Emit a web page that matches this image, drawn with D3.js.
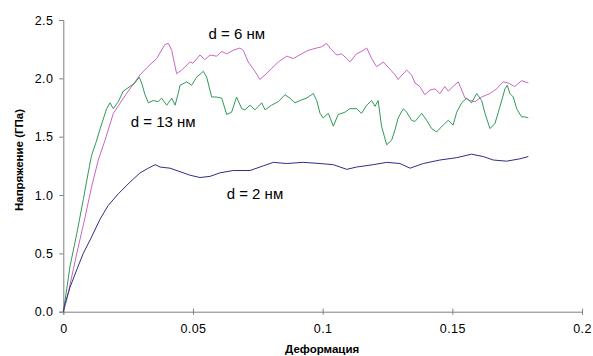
<!DOCTYPE html>
<html>
<head>
<meta charset="utf-8">
<script src="https://cdn.jsdelivr.net/npm/d3@7"></script>
<style>
  body { margin: 0; background: #fff; }
  text { font-family: Arial, "Liberation Sans", sans-serif; }
</style>
</head>
<body>
<div id="chart"></div>
<script>
// values: [strain, stress GPa]
var d6 = [[0,0],[0.0013,0.10],[0.0052,0.50],[0.0084,0.81],[0.0109,1.07],[0.0135,1.30],[0.0161,1.47],
  [0.0193,1.70],[0.0244,1.87],[0.0296,2.03],[0.0322,2.09],[0.0360,2.17],[0.0392,2.29],[0.0405,2.30],
  [0.0418,2.24],[0.0437,2.04],[0.0456,2.07],[0.0488,2.14],[0.0500,2.13],[0.0527,2.20],[0.0546,2.16],
  [0.0566,2.20],[0.0591,2.19],[0.0611,2.23],[0.0630,2.21],[0.0655,2.24],[0.0681,2.26],[0.0694,2.24],
  [0.0713,2.14],[0.0739,2.06],[0.0758,1.99],[0.0778,2.03],[0.0797,2.07],[0.0829,2.14],[0.0861,2.19],
  [0.0887,2.17],[0.0919,2.21],[0.0944,2.24],[0.0977,2.26],[0.0996,2.27],[0.1015,2.30],[0.1028,2.26],
  [0.1054,2.20],[0.1073,2.21],[0.1093,2.17],[0.1105,2.14],[0.1131,2.21],[0.1157,2.24],[0.1170,2.26],
  [0.1189,2.17],[0.1208,2.10],[0.1234,2.14],[0.1259,2.08],[0.1279,2.03],[0.1291,1.99],[0.1298,2.01],
  [0.1324,2.07],[0.1343,2.03],[0.1356,1.96],[0.1375,1.93],[0.1394,1.86],[0.1414,1.90],[0.1433,1.91],
  [0.1452,1.87],[0.1471,1.93],[0.1484,1.89],[0.1503,1.93],[0.1523,1.97],[0.1536,1.90],[0.1549,1.83],
  [0.1568,1.81],[0.1587,1.80],[0.1613,1.84],[0.1645,1.87],[0.1671,1.91],[0.1696,1.97],[0.1715,1.96],
  [0.1741,1.93],[0.1767,1.98],[0.1793,1.96]];

var d13 = [[0,0],[0.0007,0.10],[0.0026,0.39],[0.0052,0.67],[0.0077,0.96],[0.0096,1.19],[0.0109,1.34],
  [0.0126,1.45],[0.0141,1.56],[0.0167,1.74],[0.0180,1.79],[0.0193,1.74],[0.0212,1.80],[0.0231,1.89],
  [0.0257,1.93],[0.0276,1.96],[0.0293,2.01],[0.0302,1.96],[0.0315,1.86],[0.0328,1.79],[0.0347,1.81],
  [0.0366,1.80],[0.0379,1.83],[0.0399,1.77],[0.0418,1.83],[0.0431,1.77],[0.0443,1.87],[0.0450,1.94],
  [0.0476,1.97],[0.0495,1.94],[0.0514,2.01],[0.0540,2.06],[0.0553,2.01],[0.0572,1.84],[0.0591,1.84],
  [0.0611,1.83],[0.0630,1.69],[0.0649,1.71],[0.0668,1.84],[0.0688,1.74],[0.0700,1.73],[0.0720,1.77],
  [0.0739,1.73],[0.0752,1.76],[0.0765,1.79],[0.0778,1.73],[0.0803,1.77],[0.0829,1.80],[0.0855,1.86],
  [0.0874,1.83],[0.0893,1.79],[0.0913,1.81],[0.0938,1.83],[0.0964,1.87],[0.0977,1.81],[0.0990,1.70],
  [0.1002,1.66],[0.1022,1.70],[0.1041,1.59],[0.1060,1.69],[0.1086,1.71],[0.1105,1.74],[0.1131,1.74],
  [0.1150,1.70],[0.1170,1.77],[0.1189,1.81],[0.1202,1.76],[0.1214,1.81],[0.1227,1.59],[0.1247,1.43],
  [0.1266,1.47],[0.1279,1.56],[0.1291,1.66],[0.1311,1.74],[0.1324,1.71],[0.1343,1.64],[0.1356,1.63],
  [0.1382,1.70],[0.1401,1.64],[0.1420,1.57],[0.1439,1.54],[0.1465,1.60],[0.1484,1.64],[0.1503,1.60],
  [0.1517,1.71],[0.1536,1.79],[0.1555,1.83],[0.1574,1.79],[0.1594,1.87],[0.1613,1.81],[0.1626,1.70],
  [0.1645,1.57],[0.1664,1.61],[0.1684,1.76],[0.1703,1.91],[0.1712,1.94],[0.1722,1.87],[0.1735,1.84],
  [0.1748,1.74],[0.1767,1.67],[0.1780,1.67],[0.1793,1.66]];

var d2 = [[0,0],[0.0007,0.07],[0.0026,0.21],[0.0052,0.36],[0.0077,0.50],[0.0109,0.64],[0.0141,0.79],
  [0.0173,0.91],[0.0212,1.01],[0.0257,1.11],[0.0296,1.19],[0.0328,1.23],[0.0354,1.26],[0.0373,1.24],
  [0.0411,1.23],[0.0450,1.20],[0.0488,1.17],[0.0527,1.15],[0.0566,1.16],[0.0604,1.19],[0.0655,1.21],
  [0.0720,1.21],[0.0771,1.25],[0.0810,1.28],[0.0861,1.27],[0.0925,1.28],[0.0990,1.27],[0.1041,1.26],
  [0.1093,1.22],[0.1131,1.24],[0.1195,1.26],[0.1247,1.28],[0.1298,1.27],[0.1337,1.23],[0.1388,1.27],
  [0.1452,1.30],[0.1517,1.32],[0.1574,1.35],[0.1619,1.33],[0.1658,1.30],[0.1709,1.29],[0.1760,1.31],
  [0.1793,1.33]];

var xTicks = [0, 0.05, 0.1, 0.15, 0.2];
var xTickLabels = ["0", "0.05", "0.1", "0.15", "0.2"];
var yTicks = [0, 0.5, 1, 1.5, 2, 2.5];
var yTickLabels = ["0.0", "0.5", "1.0", "1.5", "2.0", "2.5"];

var series = [
  { name: "d = 6 нм", data: d6, color: "#c868c0", lx: 0.0560, ly: 2.34 },
  { name: "d = 13 нм", data: d13, color: "#2f9a55", lx: 0.0260, ly: 1.58 },
  { name: "d = 2 нм", data: d2, color: "#2e2e86", lx: 0.0630, ly: 0.97 }
];

var W = 593, H = 356;
var margin = {top: 20, right: 11, bottom: 44.3, left: 63.3};
var width = W - margin.left - margin.right,
    height = H - margin.top - margin.bottom;

var svg = d3.select("#chart").append("svg")
  .attr("width", W).attr("height", H)
  .append("g")
  .attr("transform", "translate(" + margin.left + "," + margin.top + ")");

var x = d3.scaleLinear().domain([0, 0.2]).range([0, width]);
var y = d3.scaleLinear().domain([0, 2.5]).range([height, 0]);

// axes
var xAxis = svg.append("g")
  .attr("transform", "translate(0," + height + ")")
  .call(d3.axisBottom(x).tickValues(xTicks)
    .tickFormat(function(d, i) { return xTickLabels[i]; })
    .tickSizeOuter(0).tickSize(3).tickPadding(9));
xAxis.selectAll(".tick line").attr("y1", -3);

var yAxis = svg.append("g")
  .call(d3.axisLeft(y).tickValues(yTicks)
    .tickFormat(function(d, i) { return yTickLabels[i]; })
    .tickSizeOuter(0).tickSize(4).tickPadding(6));

svg.selectAll(".domain, .tick line").attr("stroke", "#808080");
svg.selectAll(".tick text").attr("fill", "#000")
  .style("font-size", "12.5px").style("letter-spacing", "0.4px");

// lines
var line = d3.line()
  .x(function(d) { return x(d[0]); })
  .y(function(d) { return y(d[1]); });

series.forEach(function(s) {
  svg.append("path")
    .datum(s.data)
    .attr("fill", "none")
    .attr("stroke", s.color)
    .attr("stroke-width", 1)
    .attr("stroke-linejoin", "round")
    .attr("d", line);

  svg.append("text")
    .attr("x", x(s.lx))
    .attr("y", y(s.ly))
    .style("font-size", "15px")
    .attr("fill", "#000")
    .text(s.name);
});

// titles
svg.append("text")
  .attr("x", width / 2 - 0.5)
  .attr("y", height + 41)
  .attr("text-anchor", "middle")
  .style("font-size", "11.5px")
  .style("font-weight", "bold")
  .text("Деформация");

svg.append("text")
  .attr("transform", "translate(" + (23 - margin.left) + "," + (160 - margin.top) + ") rotate(-90)")
  .attr("text-anchor", "middle")
  .style("font-size", "11.5px")
  .style("font-weight", "bold")
  .text("Напряжение (ГПа)");
</script>
</body>
</html>
